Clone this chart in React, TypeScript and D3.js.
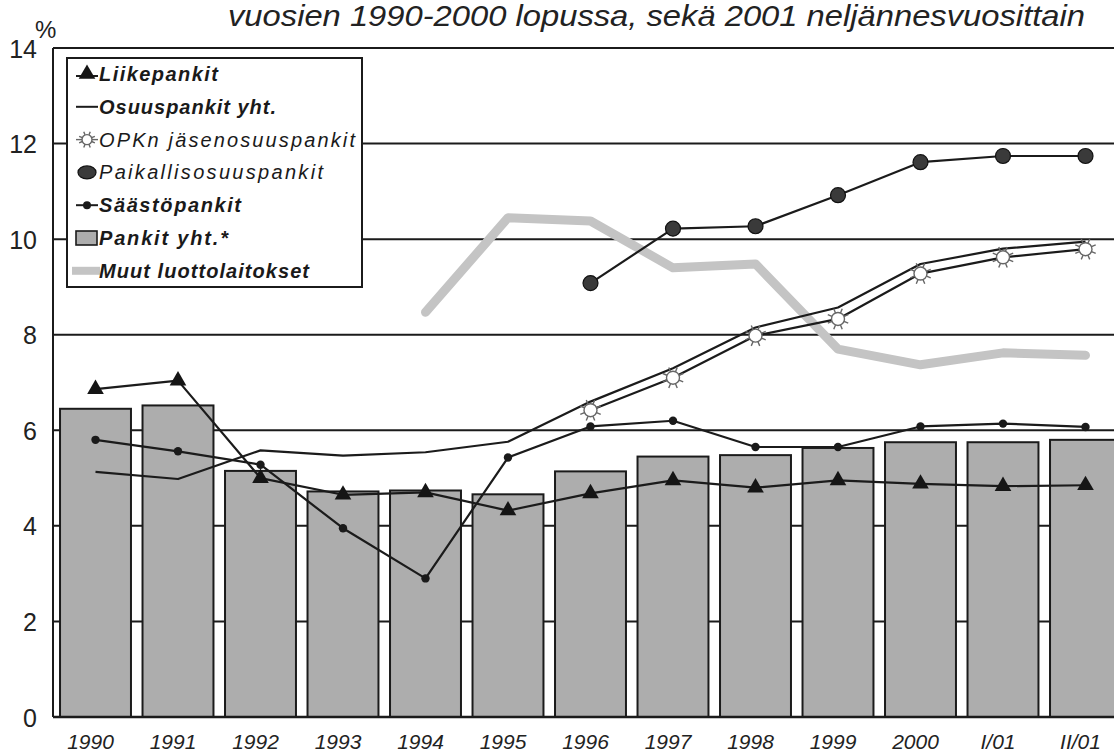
import { useEffect, useRef } from 'react';
import * as d3 from 'd3';

const categories = ['1990', '1991', '1992', '1993', '1994', '1995', '1996', '1997', '1998', '1999', '2000', 'I/01', 'II/01'];
const yTicks = [0, 2, 4, 6, 8, 10, 12, 14];

// Pankit yht.* (bars)
const pankitYht = [6.45, 6.52, 5.15, 4.72, 4.74, 4.66, 5.14, 5.45, 5.48, 5.63, 5.75, 5.75, 5.8];
const liikepankit = [6.86, 7.04, 5.0, 4.65, 4.7, 4.32, 4.68, 4.95, 4.8, 4.95, 4.88, 4.83, 4.85];
const osuuspankit = [5.13, 4.98, 5.58, 5.47, 5.54, 5.76, 6.6, 7.3, 8.15, 8.57, 9.48, 9.8, 9.95];
const opkn = [null, null, null, null, null, null, 6.42, 7.1, 7.98, 8.33, 9.28, 9.62, 9.79];
const paikallis = [null, null, null, null, null, null, 9.08, 10.22, 10.27, 10.92, 11.61, 11.74, 11.74];
const saastopankit = [5.8, 5.56, 5.28, 3.95, 2.9, 5.43, 6.08, 6.2, 5.65, 5.65, 6.08, 6.14, 6.07];
const muut = [null, null, null, null, 8.47, 10.45, 10.38, 9.4, 9.48, 7.7, 7.37, 7.62, 7.57];

const legendItems = [
  { key: 'liike', label: 'Liikepankit', bold: true, len: 119 },
  { key: 'osuus', label: 'Osuuspankit yht.', bold: true, len: 177 },
  { key: 'opkn', label: 'OPKn jäsenosuuspankit', bold: false, len: 256 },
  { key: 'paik', label: 'Paikallisosuuspankit', bold: false, len: 224 },
  { key: 'saasto', label: 'Säästöpankit', bold: true, len: 142 },
  { key: 'pankit', label: 'Pankit yht.*', bold: true, len: 129 },
  { key: 'muut', label: 'Muut luottolaitokset', bold: true, len: 210 },
];

const W = 1114;
const H = 755;
const FONT = 'Liberation Sans, Arial, sans-serif';
const INK = '#1b1b1b';

export default function App() {
  const svgRef = useRef<SVGSVGElement>(null);

  useEffect(() => {
    if (!svgRef.current) return;
    const svg = d3.select(svgRef.current);
    svg.selectAll('*').remove();

    const x = d3.scaleBand<string>()
      .domain(categories)
      .range([54, 54 + 82.5 * 13.006])
      .paddingInner(0.14)
      .paddingOuter(0.073);
    const y = d3.scaleLinear().domain([0, 14]).range([717, 48]);
    const cx = (c: string) => (x(c) || 0) + x.bandwidth() / 2;
    const axisX = 53;

    svg.append('rect').attr('width', W).attr('height', H).attr('fill', '#fff');

    // title
    svg.append('text')
      .attr('x', 228).attr('y', 26)
      .attr('font-family', FONT).attr('font-size', 30).attr('font-style', 'italic')
      .attr('fill', '#222')
      .attr('textLength', 857).attr('lengthAdjust', 'spacingAndGlyphs')
      .text('vuosien 1990-2000 lopussa, sekä 2001 neljännesvuosittain');

    svg.append('text')
      .attr('x', 35).attr('y', 38)
      .attr('font-family', FONT).attr('font-size', 24).attr('fill', '#222')
      .text('%');

    // gridlines
    svg.append('g').selectAll('line')
      .data(yTicks.filter(t => t > 0))
      .enter().append('line')
      .attr('x1', axisX).attr('x2', W)
      .attr('y1', d => y(d)).attr('y2', d => y(d))
      .attr('stroke', INK).attr('stroke-width', 2);

    // y tick labels
    svg.append('g').selectAll('text')
      .data(yTicks)
      .enter().append('text')
      .attr('x', 37).attr('y', d => y(d) + 3)
      .attr('text-anchor', 'end').attr('dominant-baseline', 'middle')
      .attr('font-family', FONT).attr('font-size', 25).attr('fill', '#222')
      .text(d => d);

    // bars
    svg.append('g').selectAll('rect')
      .data(pankitYht)
      .enter().append('rect')
      .attr('x', (_, i) => x(categories[i]) || 0)
      .attr('y', d => y(d))
      .attr('width', x.bandwidth())
      .attr('height', d => y(0) - y(d))
      .attr('fill', '#adadad')
      .attr('stroke', INK).attr('stroke-width', 2);

    // axis lines
    svg.append('line').attr('x1', axisX).attr('x2', axisX).attr('y1', y(14)).attr('y2', y(0))
      .attr('stroke', INK).attr('stroke-width', 2);
    svg.append('line').attr('x1', axisX).attr('x2', W).attr('y1', y(0)).attr('y2', y(0))
      .attr('stroke', INK).attr('stroke-width', 2.5);

    // x labels
    svg.append('g').selectAll('text')
      .data(categories)
      .enter().append('text')
      .attr('x', d => cx(d) - 5).attr('y', 749)
      .attr('text-anchor', 'middle')
      .attr('font-family', FONT).attr('font-size', 21).attr('font-style', 'italic').attr('fill', '#222')
      .text(d => d);

    const line = d3.line<number | null>()
      .defined(d => d != null)
      .x((_, i) => cx(categories[i]))
      .y(d => y(d as number));

    // Muut luottolaitokset: thick light grey
    svg.append('path').datum(muut).attr('d', line)
      .attr('fill', 'none').attr('stroke', '#c4c4c4').attr('stroke-width', 9)
      .attr('stroke-linejoin', 'round').attr('stroke-linecap', 'round');

    const series = [liikepankit, osuuspankit, opkn, paikallis, saastopankit];
    series.forEach(s => {
      svg.append('path').datum(s).attr('d', line)
        .attr('fill', 'none').attr('stroke', INK).attr('stroke-width', 2.2)
        .attr('stroke-linejoin', 'round');
    });

    const pts = (s: (number | null)[]) =>
      s.map((v, i) => ({ v, c: categories[i] })).filter(d => d.v != null) as { v: number; c: string }[];

    const tri = d3.symbol().type(d3.symbolTriangle).size(120);
    const drawTri = (g: d3.Selection<SVGGElement, unknown, null, undefined>, px: number, py: number) => {
      g.append('path').attr('d', tri).attr('transform', `translate(${px},${py})`).attr('fill', '#151515');
    };
    const drawSun = (g: d3.Selection<SVGGElement, unknown, null, undefined>, px: number, py: number, r: number) => {
      const sg = g.append('g').attr('transform', `translate(${px},${py})`);
      d3.range(8).forEach(k => {
        const a = (k * Math.PI) / 4 + Math.PI / 8;
        sg.append('line')
          .attr('x1', Math.cos(a) * r).attr('y1', Math.sin(a) * r)
          .attr('x2', Math.cos(a) * (r + r * 0.7)).attr('y2', Math.sin(a) * (r + r * 0.7))
          .attr('stroke', '#666').attr('stroke-width', 1.4);
      });
      sg.append('circle').attr('r', r).attr('fill', '#fff').attr('stroke', '#666').attr('stroke-width', 1.4);
    };

    const mk = svg.append('g');
    pts(liikepankit).forEach(d => drawTri(mk, cx(d.c), y(d.v)));
    pts(opkn).forEach(d => drawSun(mk, cx(d.c), y(d.v), 6.5));
    pts(paikallis).forEach(d => {
      mk.append('circle').attr('cx', cx(d.c)).attr('cy', y(d.v)).attr('r', 7.5)
        .attr('fill', '#3a3a3a').attr('stroke', '#111').attr('stroke-width', 1.2);
    });
    pts(saastopankit).forEach(d => {
      mk.append('circle').attr('cx', cx(d.c)).attr('cy', y(d.v)).attr('r', 4.2).attr('fill', '#1a1a1a');
    });

    // legend
    const lg = svg.append('g');
    lg.append('rect').attr('x', 67).attr('y', 58).attr('width', 295).attr('height', 229)
      .attr('fill', '#fff').attr('stroke', INK).attr('stroke-width', 2);
    legendItems.forEach((it, i) => {
      const ry = 74 + i * 32.8;
      const sx = 87;
      if (it.key === 'liike') {
        lg.append('line').attr('x1', 76).attr('x2', 98).attr('y1', ry + 2).attr('y2', ry + 2).attr('stroke', INK).attr('stroke-width', 2);
        drawTri(lg, sx, ry);
      } else if (it.key === 'osuus') {
        lg.append('line').attr('x1', 76).attr('x2', 98).attr('y1', ry).attr('y2', ry).attr('stroke', INK).attr('stroke-width', 2);
      } else if (it.key === 'opkn') {
        lg.append('line').attr('x1', 76).attr('x2', 98).attr('y1', ry).attr('y2', ry).attr('stroke', '#666').attr('stroke-width', 1.4);
        drawSun(lg, sx, ry, 5);
      } else if (it.key === 'paik') {
        lg.append('ellipse').attr('cx', sx).attr('cy', ry).attr('rx', 9).attr('ry', 6.5)
          .attr('fill', '#3a3a3a').attr('stroke', '#111').attr('stroke-width', 1.2);
      } else if (it.key === 'saasto') {
        lg.append('line').attr('x1', 76).attr('x2', 98).attr('y1', ry).attr('y2', ry).attr('stroke', INK).attr('stroke-width', 2);
        lg.append('circle').attr('cx', sx).attr('cy', ry).attr('r', 4).attr('fill', '#1a1a1a');
      } else if (it.key === 'pankit') {
        lg.append('rect').attr('x', 76).attr('y', ry - 7).attr('width', 21).attr('height', 14)
          .attr('fill', '#adadad').attr('stroke', INK).attr('stroke-width', 1.6);
      } else if (it.key === 'muut') {
        lg.append('line').attr('x1', 72).attr('x2', 100).attr('y1', ry).attr('y2', ry)
          .attr('stroke', '#c4c4c4').attr('stroke-width', 8);
      }
      lg.append('text')
        .attr('x', 99).attr('y', ry + 7)
        .attr('font-family', FONT).attr('font-size', 20).attr('font-style', 'italic')
        .attr('font-weight', it.bold ? 'bold' : 'normal')
        .attr('fill', '#1a1a1a')
        .attr('textLength', it.len).attr('lengthAdjust', 'spacing')
        .text(it.label);
    });
  }, []);

  return (
    <svg
      ref={svgRef}
      width={W}
      height={H}
      style={{ position: 'absolute', left: 0, top: 0, display: 'block' }}
    />
  );
}
